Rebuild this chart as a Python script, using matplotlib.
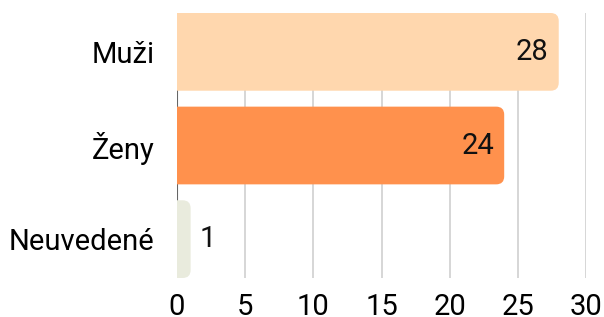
import numpy as np
import matplotlib.pyplot as plt
from matplotlib.patches import FancyBboxPatch

plt.rcParams['font.family'] = ['Roboto', 'DejaVu Sans']

categories = ['Muži', 'Ženy', 'Neuvedené']
values = [28, 24, 1]
colors = ['#FFD7AE', '#FF914D', '#E9EBDD']
xticks = [0, 5, 10, 15, 20, 25, 30]

fig = plt.figure(figsize=(6.04, 3.17), dpi=100)
ax = fig.add_axes([177/604, 1-278/317, (586-177)/604, (278-13)/317])

bar_h = 0.83
ax.set_xlim(0, 30)
ax.set_ylim(len(categories)-1+bar_h/2, -bar_h/2)

# pixel scale for rounded corners
px_x = (586-177)/30.0
px_y = (278-13)/(len(categories)-1+bar_h)
r_px = 8
r = r_px/px_x
asp = (r_px/px_y)/r

for g in xticks[1:]:
    ax.axvline(g, color='#d0d0d0', lw=1.2, zorder=0)
ax.axvline(0, color='#666666', lw=1.5, zorder=1)

for i, (v, c) in enumerate(zip(values, colors)):
    p = FancyBboxPatch((-r*2, i-bar_h/2), v+r*2, bar_h,
                       boxstyle='round,pad=0,rounding_size=%f' % r,
                       mutation_aspect=asp, fc=c, ec='none', zorder=2)
    ax.add_patch(p)
    if v > 5:
        ax.text(v-10/px_x, i, str(v), ha='right', va='center', fontsize=21, color='#111111', zorder=3)
    else:
        ax.text(v+9/px_x, i, str(v), ha='left', va='center', fontsize=21, color='#111111', zorder=3)

ax.set_yticks(range(len(categories)))
ax.set_yticklabels(categories, fontsize=21)
ax.set_xticks(xticks)
ax.set_xticklabels([str(t) for t in xticks], fontsize=21)
ax.tick_params(axis='y', length=0, pad=16)
ax.tick_params(axis='x', length=0, pad=11)
for s in ax.spines.values():
    s.set_visible(False)

plt.savefig('out.png', dpi=100)
